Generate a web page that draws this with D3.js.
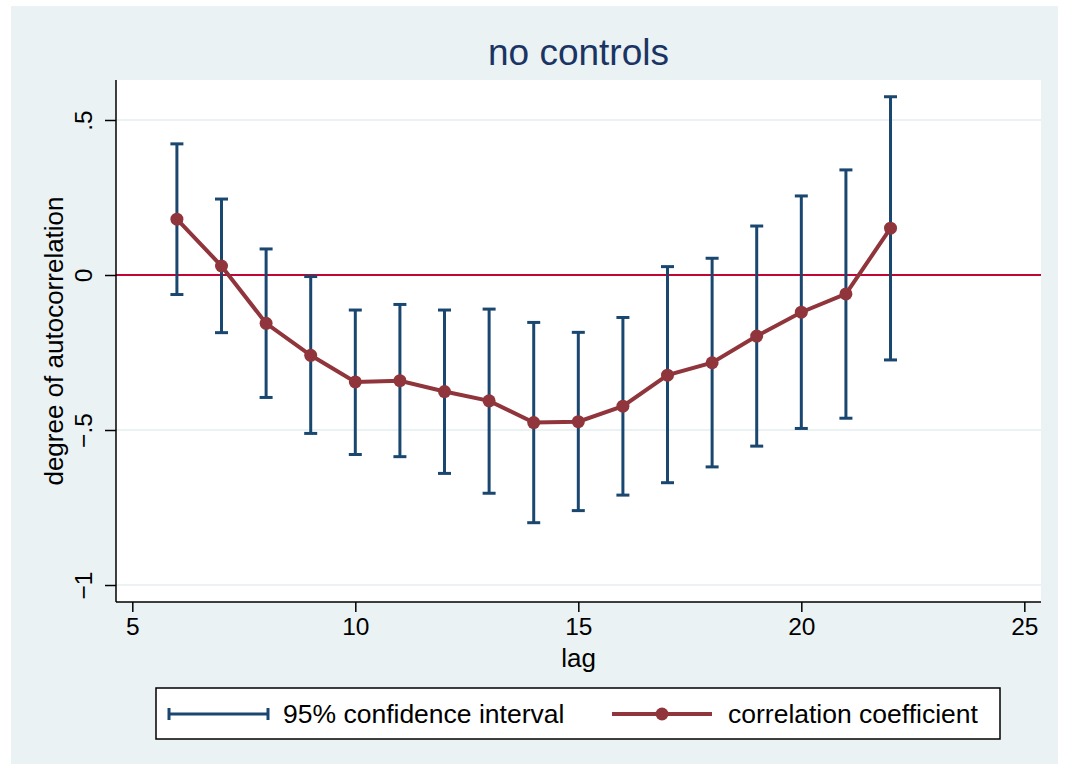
<!DOCTYPE html>
<html lang="en">
<head>
  <meta charset="utf-8">
  <title>no controls</title>
  <script src="https://d3js.org/d3.v7.min.js"></script>
  <style>
    body { margin: 0; background: #fff; }
    #chart text { font-family: "Liberation Sans", Arial, sans-serif; fill: #000; }
  </style>
</head>
<body>
  <div id="chart"></div>

  <script>
    "use strict"

    // dados
    var lags = [6, 7, 8, 9, 10, 11, 12, 13, 14, 15, 16, 17, 18, 19, 20, 21, 22];
    var coef = [0.18, 0.029, -0.156, -0.259, -0.345, -0.341, -0.376, -0.406, -0.476, -0.473, -0.423, -0.323, -0.283, -0.197, -0.12, -0.061, 0.151];
    var ciLow = [-0.063, -0.186, -0.395, -0.511, -0.579, -0.586, -0.64, -0.704, -0.799, -0.76, -0.71, -0.67, -0.619, -0.552, -0.495, -0.462, -0.274];
    var ciHigh = [0.423, 0.245, 0.084, -0.005, -0.113, -0.095, -0.113, -0.11, -0.153, -0.185, -0.137, 0.027, 0.054, 0.158, 0.255, 0.339, 0.575];
    var xTicks = [5, 10, 15, 20, 25];
    var yTicks = [-1, -0.5, 0, 0.5];
    var yTickLabels = ["\u22121", "\u2212.5", "0", ".5"];
    var legendLabels = ["95% confidence interval", "correlation coefficient"];

    var navy = "#1a476f", maroon = "#90353b", red = "#c10534", bg = "#eaf2f3";

    var larguraSVG = 1069, alturaSVG = 770;
    var margin = {top: 80, right: 28, bottom: 168, left: 116},
        larguraVis = larguraSVG - margin.left - margin.right,
        alturaVis = alturaSVG - margin.top - margin.bottom;

    var svg = d3.select('#chart')
      .append('svg')
        .attr('width', larguraSVG)
        .attr('height', alturaSVG);

    // fundo estilo stata
    svg.append('rect')
      .attr('x', 11).attr('y', 6)
      .attr('width', 1047).attr('height', 758)
      .attr('fill', bg);

    var grafico = svg.append('g')
      .attr('transform', 'translate(' + margin.left + ',' + margin.top + ')');

    grafico.append('rect')
      .attr('width', larguraVis).attr('height', alturaVis)
      .attr('fill', '#fff');

    var x = d3.scaleLinear()
              .domain([4.6345, 25.374])
              .range([0, larguraVis]);

    var y = d3.scaleLinear()
              .domain([-1.0548, 0.629])
              .range([alturaVis, 0]);

    // grid
    grafico.selectAll('.grid')
      .data(yTicks)
      .enter()
        .append('line')
          .attr('x1', 0).attr('x2', larguraVis)
          .attr('y1', d => y(d)).attr('y2', d => y(d))
          .attr('stroke', bg)
          .attr('stroke-width', 2);

    // linha do zero
    grafico.append('line')
      .attr('x1', 0).attr('x2', larguraVis)
      .attr('y1', y(0)).attr('y2', y(0))
      .attr('stroke', red)
      .attr('stroke-width', 2.2);

    /*
     * intervalos de confianca
     */
    var capW = 6.5;
    var barras = grafico.selectAll('.ci')
      .data(lags)
      .enter()
        .append('g')
          .attr('stroke', navy)
          .attr('stroke-width', 3)
          .attr('fill', 'none');

    barras.append('line')
      .attr('x1', d => x(d)).attr('x2', d => x(d))
      .attr('y1', (d, i) => y(ciLow[i])).attr('y2', (d, i) => y(ciHigh[i]));
    barras.append('line')
      .attr('x1', d => x(d) - capW).attr('x2', d => x(d) + capW)
      .attr('y1', (d, i) => y(ciLow[i])).attr('y2', (d, i) => y(ciLow[i]));
    barras.append('line')
      .attr('x1', d => x(d) - capW).attr('x2', d => x(d) + capW)
      .attr('y1', (d, i) => y(ciHigh[i])).attr('y2', (d, i) => y(ciHigh[i]));

    /*
     * linha dos coeficientes
     */
    var linha = d3.line()
      .x(d => x(d))
      .y((d, i) => y(coef[i]));

    grafico.append('path')
      .datum(lags)
      .attr('d', linha)
      .attr('fill', 'none')
      .attr('stroke', maroon)
      .attr('stroke-width', 4);

    grafico.selectAll('.pt')
      .data(lags)
      .enter()
        .append('circle')
          .attr('cx', d => x(d))
          .attr('cy', (d, i) => y(coef[i]))
          .attr('r', 6.5)
          .attr('fill', maroon);

    /*
     * eixos
     */
    var eixoX = grafico.append('g')
      .attr('transform', 'translate(0,' + alturaVis + ')')
      .call(d3.axisBottom(x).tickValues(xTicks).tickSize(10).tickPadding(6).tickSizeOuter(0));
    eixoX.select('.domain').attr('stroke', '#000').attr('stroke-width', 1.5)
      .attr('d', 'M0,0H' + larguraVis);
    eixoX.selectAll('.tick line').attr('stroke', '#000').attr('stroke-width', 1.5);
    eixoX.selectAll('.tick text').style('font-size', '24.5px');

    var eixoY = grafico.append('g')
      .call(d3.axisLeft(y).tickValues(yTicks).tickSize(11).tickSizeOuter(0)
        .tickFormat((d, i) => yTickLabels[i]));
    eixoY.select('.domain').attr('stroke', '#000').attr('stroke-width', 1.5)
      .attr('d', 'M0,0V' + alturaVis);
    eixoY.selectAll('.tick line').attr('stroke', '#000').attr('stroke-width', 1.5);
    eixoY.selectAll('.tick text')
      .attr('x', null).attr('dy', null)
      .attr('transform', 'translate(-24,0) rotate(-90)')
      .attr('text-anchor', 'middle')
      .style('font-size', '24.5px');

    // titulos
    svg.append('text')
      .attr('x', margin.left + larguraVis / 2)
      .attr('y', 65)
      .attr('text-anchor', 'middle')
      .style('font-size', '37px')
      .style('fill', '#1a3563')
      .text('no controls');

    svg.append('text')
      .attr('x', margin.left + larguraVis / 2)
      .attr('y', 667)
      .attr('text-anchor', 'middle')
      .style('font-size', '26px')
      .text('lag');

    svg.append('text')
      .attr('transform', 'translate(63,' + (margin.top + alturaVis / 2) + ') rotate(-90)')
      .attr('text-anchor', 'middle')
      .style('font-size', '26px')
      .text('degree of autocorrelation');

    /*
     * legenda
     */
    var leg = svg.append('g');
    leg.append('rect')
      .attr('x', 156).attr('y', 688)
      .attr('width', 844).attr('height', 51)
      .attr('fill', '#fff')
      .attr('stroke', '#000')
      .attr('stroke-width', 1.5);

    var ly = 714;
    var k1 = leg.append('g').attr('stroke', navy).attr('stroke-width', 3);
    k1.append('line').attr('x1', 169).attr('x2', 268).attr('y1', ly).attr('y2', ly);
    k1.append('line').attr('x1', 169).attr('x2', 169).attr('y1', ly - 6).attr('y2', ly + 6);
    k1.append('line').attr('x1', 268).attr('x2', 268).attr('y1', ly - 6).attr('y2', ly + 6);

    leg.append('line').attr('x1', 612).attr('x2', 712).attr('y1', ly).attr('y2', ly)
      .attr('stroke', maroon).attr('stroke-width', 4);
    leg.append('circle').attr('cx', 662).attr('cy', ly).attr('r', 6.5).attr('fill', maroon);

    leg.selectAll('.lt')
      .data(legendLabels)
      .enter()
        .append('text')
          .attr('x', (d, i) => i == 0 ? 283 : 728)
          .attr('y', ly + 9)
          .style('font-size', '26.5px')
          .text(d => d);
  </script>
</body>
</html>
